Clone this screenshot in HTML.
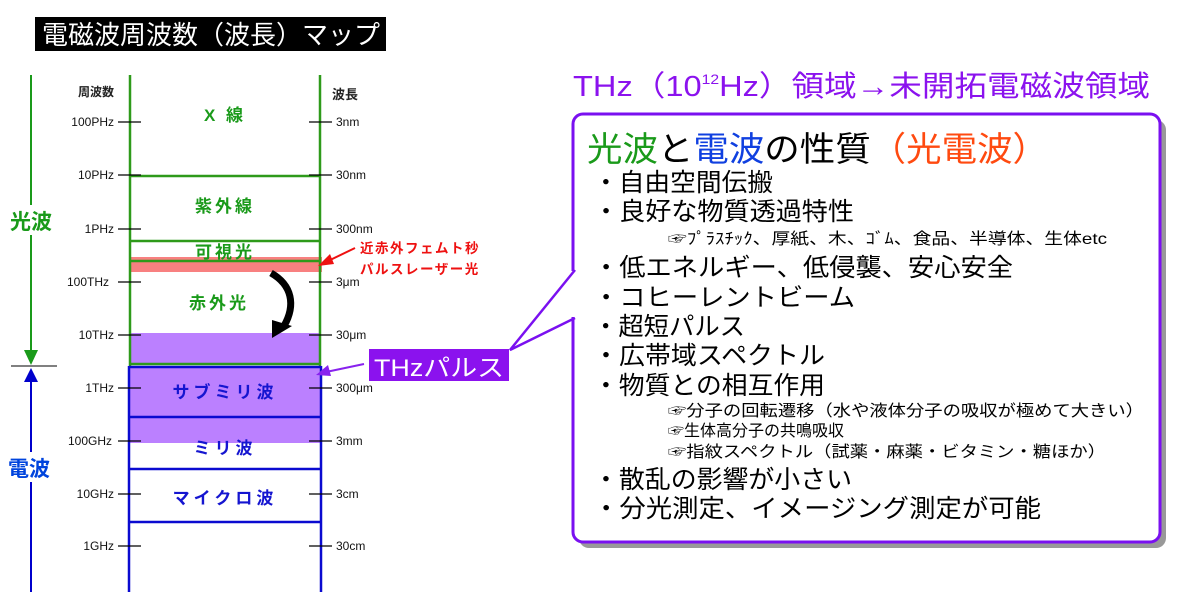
<!DOCTYPE html>
<html><head><meta charset="utf-8"><style>
html,body{margin:0;padding:0;background:#fff;}
svg{display:block;font-family:"Liberation Sans","Noto Sans CJK JP",sans-serif;}
</style></head><body>
<svg width="1181" height="604" viewBox="0 0 1181 604" xmlns="http://www.w3.org/2000/svg">
<!-- title -->
<rect x="35" y="17" width="351" height="34" fill="#000"/>
<text x="42" y="44" font-size="26" fill="#fff" textLength="338" lengthAdjust="spacingAndGlyphs">電磁波周波数（波長）マップ</text>

<!-- left arrows -->
<line x1="31" y1="75" x2="31" y2="352" stroke="#1a9a1a" stroke-width="2"/>
<polygon points="24,350 38,350 31,365" fill="#1a9a1a"/>
<line x1="11" y1="366" x2="57" y2="366" stroke="#000" stroke-width="1"/>
<polygon points="24,382 38,382 31,368" fill="#0000cc"/>
<line x1="31" y1="380" x2="31" y2="592" stroke="#0000cc" stroke-width="2"/>
<rect x="8" y="205" width="46" height="30" fill="#fff"/>
<text x="10" y="229" font-size="21" font-weight="bold" fill="#1a9a1a">光波</text>
<rect x="6" y="452" width="48" height="30" fill="#fff"/>
<text x="8" y="476" font-size="21" font-weight="bold" fill="#0044dd">電波</text>

<!-- fills -->
<rect x="130" y="257" width="192" height="15" fill="#f88080"/>
<rect x="130" y="333" width="190" height="32" fill="#bb80ff"/>
<rect x="130" y="367" width="190" height="50" fill="#bb80ff"/>
<rect x="130" y="417" width="190" height="26" fill="#bb80ff"/>

<!-- green column -->
<g stroke="#2e9a1a" stroke-width="2.5" fill="none">
<line x1="130" y1="75" x2="130" y2="366"/>
<line x1="320" y1="75" x2="320" y2="366"/>
<line x1="130" y1="176" x2="320" y2="176"/>
<line x1="130" y1="241" x2="320" y2="241"/>
<line x1="130" y1="261" x2="320" y2="261"/>
<line x1="130" y1="364" x2="320" y2="364"/>
</g>
<!-- blue column -->
<g stroke="#0a0ad0" stroke-width="2.5" fill="none">
<line x1="129" y1="366" x2="129" y2="592"/>
<line x1="321" y1="366" x2="321" y2="592"/>
<line x1="129" y1="367" x2="321" y2="367"/>
<line x1="129" y1="417" x2="321" y2="417"/>
<line x1="129" y1="469" x2="321" y2="469"/>
<line x1="129" y1="522" x2="321" y2="522"/>
</g>

<!-- ticks & labels -->
<g stroke="#000" stroke-width="1.2">
<line x1="118" y1="122" x2="141" y2="122"/><line x1="309" y1="122" x2="332" y2="122"/>
<line x1="118" y1="175" x2="141" y2="175"/><line x1="309" y1="175" x2="332" y2="175"/>
<line x1="118" y1="229" x2="141" y2="229"/><line x1="309" y1="229" x2="332" y2="229"/>
<line x1="118" y1="282" x2="141" y2="282"/><line x1="309" y1="282" x2="332" y2="282"/>
<line x1="118" y1="335" x2="141" y2="335"/><line x1="309" y1="335" x2="332" y2="335"/>
<line x1="118" y1="388" x2="141" y2="388"/><line x1="309" y1="388" x2="332" y2="388"/>
<line x1="118" y1="441" x2="141" y2="441"/><line x1="309" y1="441" x2="332" y2="441"/>
<line x1="118" y1="494" x2="141" y2="494"/><line x1="309" y1="494" x2="332" y2="494"/>
<line x1="118" y1="546" x2="141" y2="546"/><line x1="309" y1="546" x2="332" y2="546"/>
</g>
<g font-size="12" fill="#111" text-anchor="end">
<text x="114" y="126">100PHz</text>
<text x="114" y="179">10PHz</text>
<text x="114" y="233">1PHz</text>
<text x="109" y="286">100THz</text>
<text x="114" y="339">10THz</text>
<text x="114" y="392">1THz</text>
<text x="112" y="445">100GHz</text>
<text x="114" y="498">10GHz</text>
<text x="114" y="550">1GHz</text>
</g>
<g font-size="12" fill="#111">
<text x="336" y="126">3nm</text>
<text x="336" y="179">30nm</text>
<text x="336" y="233">300nm</text>
<text x="336" y="286">3μm</text>
<text x="336" y="339">30μm</text>
<text x="336" y="392">300μm</text>
<text x="336" y="445">3mm</text>
<text x="336" y="498">3cm</text>
<text x="336" y="550">30cm</text>
</g>
<text x="78" y="96" font-size="12" font-weight="bold" fill="#222">周波数</text>
<text x="332" y="99" font-size="13" font-weight="bold" fill="#222">波長</text>

<!-- band labels -->
<g font-weight="bold" font-size="17" fill="#1a9a1a" text-anchor="middle">
<text x="225" y="121" letter-spacing="3">X 線</text>
<text x="225" y="212" letter-spacing="3">紫外線</text>
<text x="225" y="258" letter-spacing="3">可視光</text>
<text x="219" y="309" letter-spacing="3">赤外光</text>
</g>
<g font-weight="bold" font-size="17" fill="#1515d0" text-anchor="middle">
<text x="225" y="398" letter-spacing="4">サブミリ波</text>
<text x="225" y="454" letter-spacing="4">ミリ波</text>
<text x="225" y="504" letter-spacing="4">マイクロ波</text>
</g>

<!-- black curved arrow -->
<path d="M271,273 C292,285 296,305 284,326" stroke="#000" stroke-width="7" fill="none"/>
<polygon points="272,320 292,326 272,338" fill="#000"/>

<!-- red annotation -->
<line x1="355" y1="248" x2="326" y2="262" stroke="#ee1111" stroke-width="2"/>
<polygon points="318,266 330,254 334,264" fill="#ee1111"/>
<text x="360" y="253" font-size="13.5" font-weight="bold" fill="#ee1111" letter-spacing="1.5">近赤外フェムト秒</text>
<text x="360" y="274" font-size="13.5" font-weight="bold" fill="#ee1111" letter-spacing="1.5">パルスレーザー光</text>

<!-- THz pulse label -->
<line x1="364" y1="364" x2="326" y2="372" stroke="#8822ee" stroke-width="2"/>
<polygon points="316,375 328,365 331,376" fill="#8822ee"/>
<rect x="369" y="349" width="140" height="32" fill="#8b12ee"/>
<text x="374" y="376" font-size="24" fill="#fff" textLength="130" lengthAdjust="spacingAndGlyphs">THzパルス</text>

<!-- right panel title -->
<text x="573" y="96" font-size="29" fill="#8b12ee" textLength="577" lengthAdjust="spacingAndGlyphs">THz（10<tspan font-size="14" dy="-12">12</tspan><tspan dy="12">Hz）領域→未開拓電磁波領域</tspan></text>

<!-- box -->
<rect x="579" y="120" width="587" height="428" rx="10" fill="#999"/>
<rect x="573" y="114" width="587" height="428" rx="10" fill="#fff" stroke="#7a10f0" stroke-width="3"/>
<!-- callout -->
<rect x="570" y="271" width="8" height="46" fill="#fff"/>
<polyline points="575,270 510,350 575,318" fill="none" stroke="#7a10f0" stroke-width="2.5"/>

<!-- box text -->
<text x="587" y="161" font-size="34" textLength="461" lengthAdjust="spacingAndGlyphs"><tspan fill="#1a9a1a">光波</tspan><tspan fill="#000">と</tspan><tspan fill="#1040e0">電波</tspan><tspan fill="#000">の性質</tspan><tspan fill="#ff4a10">（光電波）</tspan></text>
<g font-size="25" fill="#000" lengthAdjust="spacingAndGlyphs">
<text x="593" y="191" textLength="180" lengthAdjust="spacingAndGlyphs">・自由空間伝搬</text>
<text x="593" y="220" textLength="261" lengthAdjust="spacingAndGlyphs">・良好な物質透過特性</text>
<text x="593" y="276" textLength="420" lengthAdjust="spacingAndGlyphs">・低エネルギー、低侵襲、安心安全</text>
<text x="593" y="306" textLength="262" lengthAdjust="spacingAndGlyphs">・コヒーレントビーム</text>
<text x="593" y="335" textLength="152" lengthAdjust="spacingAndGlyphs">・超短パルス</text>
<text x="593" y="364" textLength="232" lengthAdjust="spacingAndGlyphs">・広帯域スペクトル</text>
<text x="593" y="394" textLength="232" lengthAdjust="spacingAndGlyphs">・物質との相互作用</text>
<text x="593" y="488" textLength="259" lengthAdjust="spacingAndGlyphs">・散乱の影響が小さい</text>
<text x="593" y="517" textLength="448" lengthAdjust="spacingAndGlyphs">・分光測定、イメージング測定が可能</text>
</g>
<g font-size="16" fill="#000">
<text x="668" y="244" textLength="439" lengthAdjust="spacingAndGlyphs">☞ﾌﾟﾗｽﾁｯｸ、厚紙、木、ｺﾞﾑ、食品、半導体、生体etc</text>
<text x="668" y="416" textLength="476" lengthAdjust="spacingAndGlyphs">☞分子の回転遷移（水や液体分子の吸収が極めて大きい）</text>
<text x="668" y="436">☞生体高分子の共鳴吸収</text>
<text x="668" y="457" textLength="438" lengthAdjust="spacingAndGlyphs">☞指紋スペクトル（試薬・麻薬・ビタミン・糖ほか）</text>
</g>
</svg>
</body></html>
